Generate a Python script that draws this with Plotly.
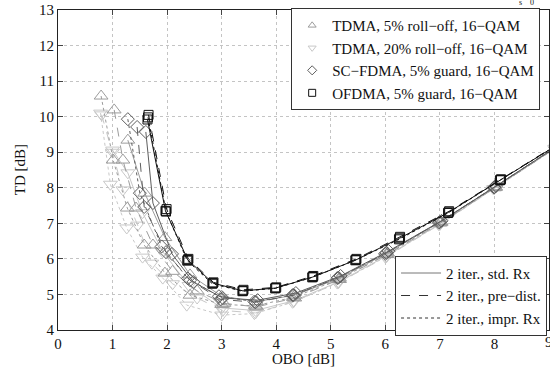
import plotly.graph_objects as go

# ---------------- data ----------------
x_ticks = [0, 1, 2, 3, 4, 5, 6, 7, 8, 9]
y_ticks = [4, 5, 6, 7, 8, 9, 10, 11, 12, 13]

# OFDMA, 5% guard, 16-QAM (black squares)
ofdma_std_x = [1.64, 1.97, 2.38, 2.84, 3.39, 3.99, 4.67, 5.46, 6.26, 7.16, 8.11, 9.25]
ofdma_std_y = [9.92, 7.35, 5.97, 5.32, 5.10, 5.18, 5.49, 5.97, 6.58, 7.31, 8.22, 9.30]
ofdma_pre_x = [1.66, 1.99, 2.39, 2.85, 3.40, 4.00, 4.68, 5.47, 6.27, 7.17, 8.12, 9.26]
ofdma_pre_y = [10.05, 7.40, 6.00, 5.34, 5.13, 5.20, 5.52, 6.00, 6.62, 7.34, 8.24, 9.32]
ofdma_imp_x = [1.65, 1.98, 2.37, 2.83, 3.38, 3.98, 4.66, 5.45, 6.25, 7.15, 8.10, 9.24]
ofdma_imp_y = [9.98, 7.33, 5.95, 5.30, 5.09, 5.17, 5.48, 5.96, 6.55, 7.29, 8.21, 9.29]

# SC-FDMA, 5% guard, 16-QAM (dark grey diamonds)
scfdma_std_x = [1.61, 1.74, 2.09, 2.48, 3.02, 3.66, 4.36, 5.18, 6.06, 7.03, 8.03, 9.15]
scfdma_std_y = [9.57, 7.57, 6.14, 5.35, 4.90, 4.84, 5.04, 5.52, 6.22, 7.07, 8.05, 9.17]
scfdma_pre_x = [1.45, 1.58, 1.98, 2.42, 2.98, 3.62, 4.32, 5.14, 6.02, 7.00, 8.00, 9.13]
scfdma_pre_y = [9.71, 7.46, 6.19, 5.40, 4.86, 4.78, 4.98, 5.47, 6.17, 7.04, 8.02, 9.15]
scfdma_imp_x = [1.28, 1.50, 1.90, 2.38, 2.95, 3.60, 4.30, 5.12, 6.00, 6.98, 7.99, 9.12]
scfdma_imp_y = [9.93, 7.85, 6.35, 5.45, 4.95, 4.80, 4.98, 5.46, 6.15, 7.02, 8.01, 9.14]

# TDMA, 5% roll-off, 16-QAM (grey triangles up)
tdma5_std_x = [1.28, 1.59, 1.96, 2.42, 3.00, 3.64, 4.34, 5.16, 6.04, 7.02, 8.02, 9.15]
tdma5_std_y = [9.34, 7.85, 6.60, 5.55, 4.95, 4.80, 4.98, 5.46, 6.17, 7.05, 8.03, 9.16]
tdma5_pre_x = [1.03, 1.19, 1.43, 1.74, 2.10, 2.55, 3.04, 3.64, 4.34, 5.16, 6.04, 7.02, 8.02, 9.15]
tdma5_pre_y = [10.19, 8.78, 7.43, 6.39, 5.65, 5.10, 4.75, 4.65, 4.90, 5.42, 6.13, 7.02, 8.01, 9.14]
tdma5_imp_x = [0.79, 1.01, 1.27, 1.58, 1.96, 2.42, 3.00, 3.62, 4.32, 5.14, 6.02, 7.00, 8.00, 9.13]
tdma5_imp_y = [10.58, 8.78, 7.43, 6.39, 5.60, 4.98, 4.72, 4.68, 4.92, 5.42, 6.12, 7.01, 8.00, 9.13]

# TDMA, 20% roll-off, 16-QAM (light grey triangles down)
tdma20_std_x = [1.00, 1.28, 1.55, 1.92, 2.40, 3.00, 3.62, 4.32, 5.14, 6.02, 7.00, 8.00, 9.12]
tdma20_std_y = [9.06, 8.42, 7.30, 6.20, 5.25, 4.62, 4.55, 4.82, 5.35, 6.08, 6.98, 7.98, 9.12]
tdma20_pre_x = [0.80, 1.00, 1.19, 1.46, 1.72, 2.10, 2.55, 3.02, 3.62, 4.32, 5.14, 6.02, 7.00, 8.00, 9.12]
tdma20_pre_y = [10.05, 9.00, 7.94, 6.95, 5.88, 5.30, 4.90, 4.55, 4.48, 4.80, 5.33, 6.06, 6.97, 7.98, 9.11]
tdma20_imp_x = [0.78, 0.96, 1.26, 1.55, 1.92, 2.36, 3.00, 3.60, 4.30, 5.12, 6.00, 6.98, 7.98, 9.10]
tdma20_imp_y = [10.10, 8.10, 6.87, 6.05, 5.46, 4.70, 4.42, 4.46, 4.78, 5.32, 6.05, 6.96, 7.97, 9.10]

series_names = ["TDMA, 5% roll\u2212off, 16\u2212QAM",
                "TDMA, 20% roll\u2212off, 16\u2212QAM",
                "SC\u2212FDMA, 5% guard, 16\u2212QAM",
                "OFDMA, 5% guard, 16\u2212QAM"]
style_names = ["2 iter., std. Rx", "2 iter., pre\u2212dist.", "2 iter., impr. Rx"]

# ---------------- styles ----------------
fam_colors = ["#9c9c9c", "#c8c8c8", "#5e5e5e", "#111111"]
fam_symbols = ["triangle-up-open", "triangle-down-open", "diamond-open", "square-open"]
fam_sizes = [12, 12, 10, 9]
dashes = ["solid", "dash", "dot"]

families = [
    [(tdma5_std_x, tdma5_std_y), (tdma5_pre_x, tdma5_pre_y), (tdma5_imp_x, tdma5_imp_y)],
    [(tdma20_std_x, tdma20_std_y), (tdma20_pre_x, tdma20_pre_y), (tdma20_imp_x, tdma20_imp_y)],
    [(scfdma_std_x, scfdma_std_y), (scfdma_pre_x, scfdma_pre_y), (scfdma_imp_x, scfdma_imp_y)],
    [(ofdma_std_x, ofdma_std_y), (ofdma_pre_x, ofdma_pre_y), (ofdma_imp_x, ofdma_imp_y)],
]

FONT = "Liberation Serif, Times New Roman, serif"
fig = go.Figure()

order = [1, 0, 2, 3]
for fi in order:
    for si, (xs, ys) in enumerate(families[fi]):
        fig.add_trace(go.Scatter(
            x=xs, y=ys, mode="lines+markers",
            line=dict(color=fam_colors[fi], width=1, dash=dashes[si]),
            marker=dict(symbol=fam_symbols[fi], size=fam_sizes[fi],
                        color=fam_colors[fi], line=dict(width=1, color=fam_colors[fi])),
            showlegend=False, hoverinfo="skip"))

for fi in range(4):
    fig.add_trace(go.Scatter(
        x=[None], y=[None], mode="markers", name=series_names[fi],
        marker=dict(symbol=fam_symbols[fi], size=7, color=fam_colors[fi],
                    line=dict(width=1, color=fam_colors[fi])),
        legend="legend"))

style_colors = ["#777777", "#333333", "#333333"]
for si in range(3):
    fig.add_trace(go.Scatter(
        x=[None], y=[None], mode="lines", name=style_names[si],
        line=dict(color=style_colors[si], width=1, dash=dashes[si]),
        legend="legend2"))

axis_common = dict(
    showline=True, linecolor="#222222", linewidth=1, mirror="ticks",
    ticks="inside", ticklen=5, tickcolor="#444444",
    showgrid=True, gridcolor="#c4c4c4", griddash="dot", gridwidth=1,
    zeroline=False, automargin=False,
    tickfont=dict(family=FONT, size=15, color="#111111"),
)

fig.update_layout(
    width=550, height=377,
    margin=dict(l=58, r=1, t=10, b=47),
    paper_bgcolor="white", plot_bgcolor="white",
    font=dict(family=FONT, size=15, color="#111111"),
    xaxis=dict(range=[0, 9], tickvals=x_ticks, **axis_common),
    yaxis=dict(range=[4, 13], tickvals=y_ticks, **axis_common),
    legend=dict(x=0.982, y=1.006, xanchor="right", yanchor="top",
                bgcolor="white", bordercolor="#333333", borderwidth=1,
                font=dict(family=FONT, size=15), tracegroupgap=0),
    legend2=dict(x=0.996, y=0.232, xanchor="right", yanchor="top",
                 bgcolor="white", bordercolor="#333333", borderwidth=1,
                 itemwidth=40,
                 font=dict(family=FONT, size=15), tracegroupgap=0),
    annotations=[
        dict(text="OBO [dB]", x=0.5, y=-0.092, xref="paper", yref="paper",
             showarrow=False, xanchor="center", yanchor="middle",
             font=dict(family=FONT, size=15, color="#111111")),
        dict(text="TD [dB]", x=-0.077, y=0.5, xref="paper", yref="paper",
             showarrow=False, xanchor="center", yanchor="middle", textangle=-90,
             font=dict(family=FONT, size=15, color="#111111")),
        dict(text=str(x_ticks[-1]), x=x_ticks[-1], y=0, xref="x", yref="paper",
             showarrow=False, xanchor="center", yanchor="top", yshift=-2,
             font=dict(family=FONT, size=15, color="#111111")),
        dict(text="s&nbsp;&nbsp;&nbsp;&nbsp;0", x=0.935, y=1.022,
             xref="paper", yref="paper", showarrow=False,
             xanchor="left", yanchor="middle",
             font=dict(family=FONT, size=8, color="#111111")),
    ],
)

fig.write_html("out.html", config={"displayModeBar": False},
               post_script="document.body.style.margin='0px';")
